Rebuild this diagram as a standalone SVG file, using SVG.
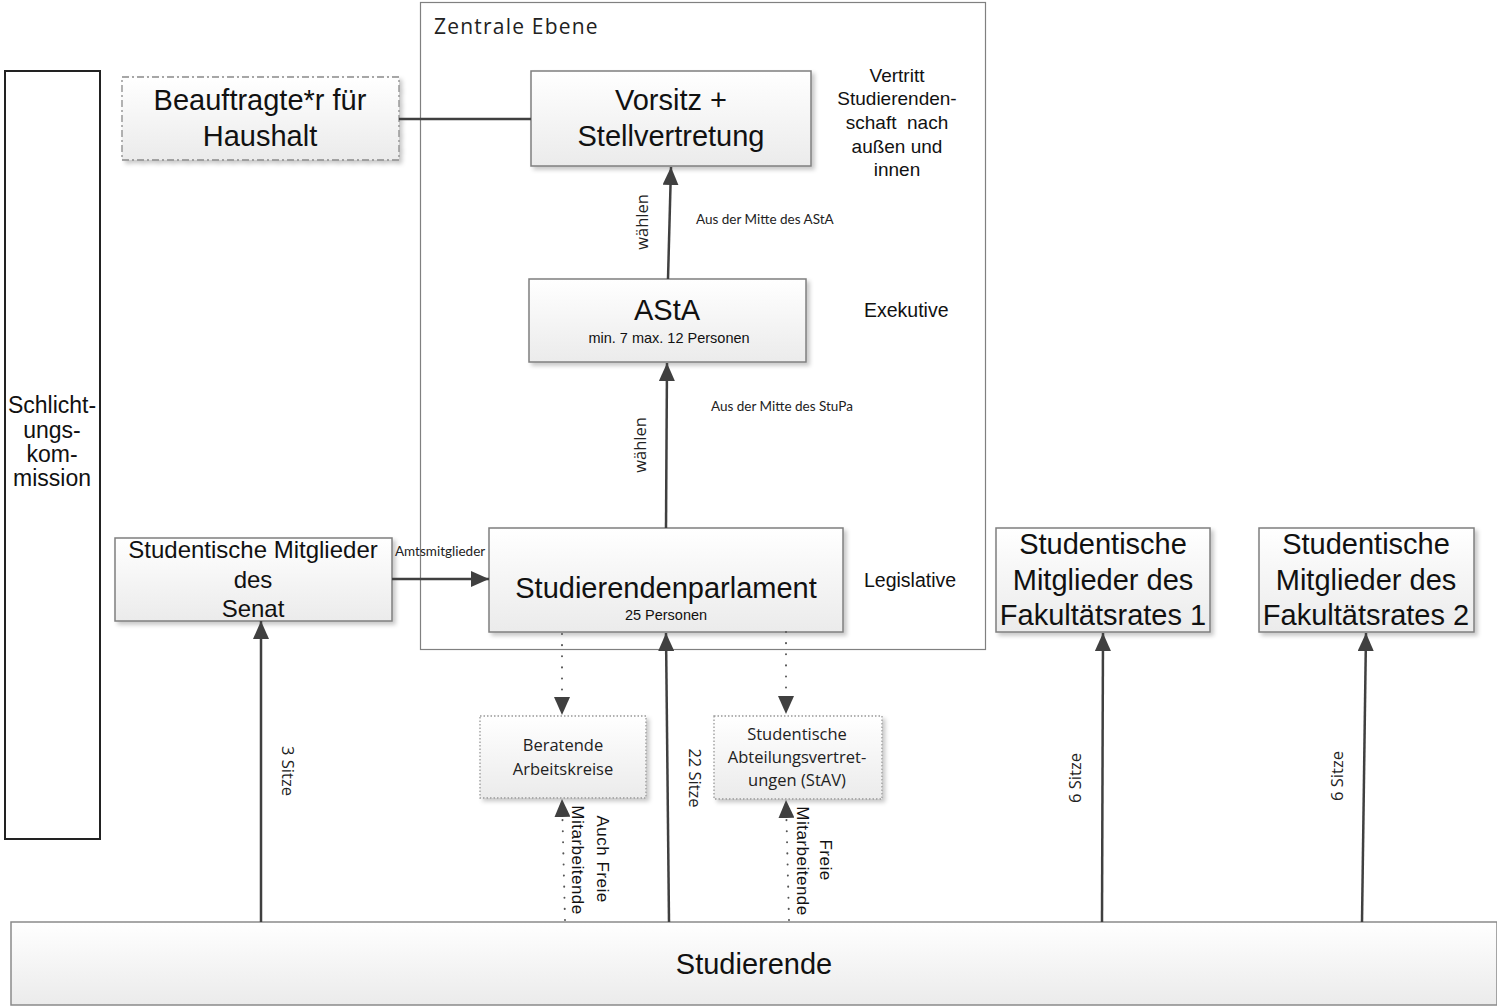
<svg xmlns="http://www.w3.org/2000/svg" width="1497" height="1006" viewBox="0 0 1497 1006">
<style>
.box{fill:url(#g);stroke:#7f7f7f;stroke-width:1.5;filter:url(#sh)}
.ar{font-family:"Liberation Sans",Arial,sans-serif;fill:#111;text-anchor:middle}
.os{font-family:"Open Sans",sans-serif;fill:#222;text-anchor:middle}
.lt{font-family:Lato,"Open Sans",sans-serif;fill:#222}
.con{stroke:#404040;stroke-width:2.5;fill:none}
.dot{stroke:#555;stroke-width:2;fill:none;stroke-dasharray:0.1 11;stroke-linecap:round}
</style>
<defs>
<linearGradient id="g" x1="0" y1="0" x2="0" y2="1">
<stop offset="0" stop-color="#ffffff"/>
<stop offset="1" stop-color="#ebebeb"/>
</linearGradient>
<filter id="sh" x="-5%" y="-5%" width="115%" height="125%">
<feDropShadow dx="3" dy="3" stdDeviation="2" flood-color="#000" flood-opacity="0.22"/>
</filter>
<marker id="ah" markerUnits="userSpaceOnUse" viewBox="0 0 18 16" refX="18" refY="8" markerWidth="18" markerHeight="16" orient="auto">
<path d="M0,0 L18,8 L0,16 z" fill="#404040"/>
</marker>
</defs>
<rect width="1497" height="1006" fill="#fff"/>

<g id="zentrale-ebene">
<rect x="420.5" y="2.5" width="565" height="647" fill="none" stroke="#808080" stroke-width="1.2"/>
<text x="434" y="34" style="font-family:'Open Sans',sans-serif;font-size:21px;letter-spacing:1.2px;fill:#222">Zentrale Ebene</text>
</g>

<g id="schlichtungskommission">
<rect x="5" y="71" width="95" height="768" fill="#fff" stroke="#222" stroke-width="2"/>
<text class="ar" style="font-size:23px"><tspan x="52" y="413">Schlicht-</tspan><tspan x="52" y="438">ungs-</tspan><tspan x="52" y="462">kom-</tspan><tspan x="52" y="486">mission</tspan></text>
</g>

<g id="beauftragte">
<rect x="122" y="77" width="277" height="83" fill="url(#g)" stroke="#8a8a8a" stroke-width="1.3" stroke-dasharray="7 3 2 3" filter="url(#sh)"/>
<text class="ar" style="font-size:29px"><tspan x="260" y="110">Beauftragte*r für</tspan><tspan x="260" y="146">Haushalt</tspan></text>
</g>

<g id="vorsitz">
<rect class="box" x="531" y="71" width="280" height="95"/>
<text class="ar" style="font-size:29px"><tspan x="671" y="110">Vorsitz +</tspan><tspan x="671" y="146">Stellvertretung</tspan></text>
</g>

<g id="vorsitz-note">
<text class="ar" style="font-size:19px"><tspan x="897" y="82">Vertritt</tspan><tspan x="897" y="105">Studierenden-</tspan><tspan x="897" y="129">schaft&#160; nach</tspan><tspan x="897" y="153">außen und</tspan><tspan x="897" y="176">innen</tspan></text>
</g>

<g id="asta">
<rect class="box" x="529" y="279" width="277" height="83"/>
<text class="ar" x="667" y="320" style="font-size:29px">AStA</text>
<text class="ar" x="669" y="343" style="font-size:14.5px">min. 7 max. 12 Personen</text>
</g>

<g id="exekutive"><text class="ar" x="864" y="317" style="font-size:19.5px;text-anchor:start">Exekutive</text></g>

<g id="stupa">
<rect class="box" x="489" y="528" width="354" height="104"/>
<text class="ar" x="666" y="598" style="font-size:29px">Studierendenparlament</text>
<text class="ar" x="666" y="620" style="font-size:14.5px">25 Personen</text>
</g>

<g id="legislative"><text class="ar" x="864" y="587" style="font-size:19.5px;text-anchor:start">Legislative</text></g>

<g id="senat">
<rect class="box" x="115" y="538" width="277" height="83"/>
<text class="ar" style="font-size:24px"><tspan x="253" y="558">Studentische Mitglieder</tspan><tspan x="253" y="588">des</tspan><tspan x="253" y="617">Senat</tspan></text>
</g>

<g id="beratende">
<rect x="480" y="716" width="166" height="82" fill="url(#g)" stroke="#999" stroke-width="1.3" stroke-dasharray="1.5 2" filter="url(#sh)"/>
<text class="os" style="font-size:16.5px"><tspan x="563" y="751">Beratende</tspan><tspan x="563" y="775">Arbeitskreise</tspan></text>
</g>

<g id="stav">
<rect x="714" y="716" width="168" height="83" fill="url(#g)" stroke="#999" stroke-width="1.3" stroke-dasharray="1.5 2" filter="url(#sh)"/>
<text class="os" style="font-size:16.5px"><tspan x="797" y="740">Studentische</tspan><tspan x="797" y="763">Abteilungsvertret-</tspan><tspan x="797" y="786">ungen (StAV)</tspan></text>
</g>

<g id="fakultaet1">
<rect class="box" x="996" y="528" width="214" height="104"/>
<text class="ar" style="font-size:29px"><tspan x="1103" y="554">Studentische</tspan><tspan x="1103" y="590">Mitglieder des</tspan><tspan x="1103" y="625">Fakultätsrates 1</tspan></text>
</g>

<g id="fakultaet2">
<rect class="box" x="1259" y="528" width="215" height="104"/>
<text class="ar" style="font-size:29px"><tspan x="1366" y="554">Studentische</tspan><tspan x="1366" y="590">Mitglieder des</tspan><tspan x="1366" y="625">Fakultätsrates 2</tspan></text>
</g>

<g id="studierende">
<rect x="11" y="922" width="1486" height="83" fill="url(#g)" stroke="#8a8a8a" stroke-width="1.5"/>
<text class="ar" x="754" y="974" style="font-size:29px">Studierende</text>
</g>

<g id="connectors">
<line class="con" x1="399" y1="119" x2="531" y2="119" stroke-width="2"/>
<line class="con" x1="668" y1="279" x2="671" y2="167" marker-end="url(#ah)"/>
<line class="con" x1="666" y1="528" x2="667" y2="363" marker-end="url(#ah)"/>
<line class="con" x1="392" y1="579" x2="489" y2="579" marker-end="url(#ah)"/>
<line class="con" x1="261" y1="922" x2="261" y2="621" marker-end="url(#ah)"/>
<line class="con" x1="669" y1="922" x2="666" y2="633" marker-end="url(#ah)"/>
<line class="con" x1="1102" y1="922" x2="1103" y2="633" marker-end="url(#ah)"/>
<line class="con" x1="1362" y1="922" x2="1366" y2="633" marker-end="url(#ah)"/>
<line class="dot" x1="562" y1="634" x2="562" y2="715" marker-end="url(#ah)"/>
<line class="dot" x1="786" y1="632" x2="786" y2="714" marker-end="url(#ah)"/>
<line class="dot" x1="565" y1="920" x2="562" y2="799" marker-end="url(#ah)"/>
<line class="dot" x1="789" y1="920" x2="786" y2="800" marker-end="url(#ah)"/>
<text class="os" transform="translate(642,222) rotate(-90)" x="0" y="6" style="font-size:16.5px">wählen</text>
<text class="os" transform="translate(640,445) rotate(-90)" x="0" y="6" style="font-size:16.5px">wählen</text>
<text class="lt" x="696" y="224" style="font-size:13.5px">Aus der Mitte des AStA</text>
<text class="lt" x="711" y="411" style="font-size:13.5px">Aus der Mitte des StuPa</text>
<text class="lt" x="395" y="556" style="font-size:13.5px">Amtsmitglieder</text>
<text class="os" transform="translate(288,771) rotate(90)" x="0" y="6" style="font-size:16.5px">3 Sitze</text>
<text class="os" transform="translate(695,778) rotate(90)" x="0" y="6" style="font-size:16.5px">22 Sitze</text>
<text class="os" transform="translate(1075,778) rotate(-90)" x="0" y="6" style="font-size:16.5px">6 Sitze</text>
<text class="os" transform="translate(1337,776) rotate(-90)" x="0" y="6" style="font-size:16.5px">6 Sitze</text>
<text class="ar" transform="translate(603,859) rotate(90)" x="0" y="6" style="font-size:17px;letter-spacing:0.5px">Auch Freie</text>
<text class="ar" transform="translate(578,860) rotate(90)" x="0" y="6" style="font-size:17px;letter-spacing:0.5px">Mitarbeitende</text>
<text class="ar" transform="translate(826,860) rotate(90)" x="0" y="6" style="font-size:17px;letter-spacing:0.5px">Freie</text>
<text class="ar" transform="translate(803,861) rotate(90)" x="0" y="6" style="font-size:17px;letter-spacing:0.5px">Mitarbeitende</text>
</g>
</svg>
